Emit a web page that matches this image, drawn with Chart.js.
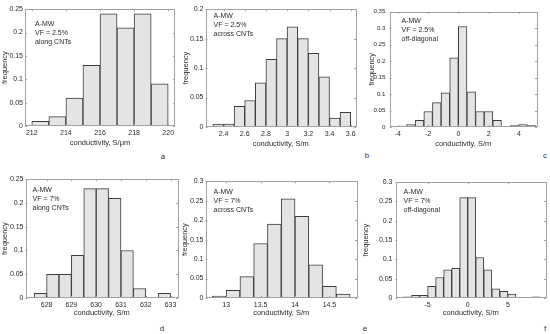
<!DOCTYPE html>
<html>
<head>
<meta charset="utf-8">
<script src="https://cdn.jsdelivr.net/npm/chart.js@4.4.0/dist/chart.umd.min.js"></script>
<style>
  body { margin: 0; width: 550px; height: 334px; background: #fff; position: relative; overflow: hidden; font-family: "Liberation Sans", Arial, sans-serif; }
  canvas { position: absolute; }
  .tag { position: absolute; font-size: 8px; color: #333; transform: translate(-50%, -50%); }
</style>
</head>
<body>
<div class="tag" style="left:163px;top:156px">a</div>
<div class="tag" style="left:367px;top:155px">b</div>
<div class="tag" style="left:545px;top:155px">c</div>
<div class="tag" style="left:162px;top:328px">d</div>
<div class="tag" style="left:365px;top:328px">e</div>
<div class="tag" style="left:545px;top:328px">f</div>
<script>
// bin centres and relative frequencies
const binsA = [212.5, 213.5, 214.5, 215.5, 216.5, 217.5, 218.5, 219.5];
const freqA = [0.01, 0.02, 0.06, 0.13, 0.24, 0.21, 0.24, 0.09];
const ticksA = [212, 214, 216, 218, 220];

const binsB = [2.35, 2.45, 2.55, 2.65, 2.75, 2.85, 2.95, 3.05, 3.15, 3.25, 3.35, 3.45, 3.55];
const freqB = [0.005, 0.005, 0.035, 0.045, 0.075, 0.115, 0.15, 0.17, 0.15, 0.125, 0.085, 0.015, 0.025];
const ticksB = [2.4, 2.6, 2.8, 3, 3.2, 3.4, 3.6];

const binsC = [-3.705, -3.135, -2.565, -1.995, -1.425, -0.855, -0.285, 0.285, 0.855, 1.425, 1.995, 2.565, 3.135, 3.705, 4.275, 4.845];
const freqC = [0.003, 0.007, 0.02, 0.047, 0.074, 0.104, 0.21, 0.305, 0.107, 0.047, 0.047, 0.02, 0.002, 0.004, 0.007, 0.004];
const ticksC = [-4, -2, 0, 2, 4];

const binsD = [627.75, 628.25, 628.75, 629.25, 629.75, 630.25, 630.75, 631.25, 631.75, 632.25, 632.75];
const freqD = [0.01, 0.05, 0.05, 0.09, 0.23, 0.23, 0.21, 0.10, 0.02, 0, 0.01];
const ticksD = [628, 629, 630, 631, 632, 633];

const binsE = [12.9, 13.1, 13.3, 13.5, 13.7, 13.9, 14.1, 14.3, 14.5, 14.7];
const freqE = [0.005, 0.02, 0.055, 0.14, 0.19, 0.255, 0.21, 0.085, 0.03, 0.01];
const ticksE = [13, 13.5, 14, 14.5];

const binsF = [-7.5, -6.5, -5.5, -4.5, -3.5, -2.5, -1.5, -0.5, 0.5, 1.5, 2.5, 3.5, 4.5, 5.5, 6.5, 7.5, 8.5];
const freqF = [0.003, 0.007, 0.007, 0.03, 0.053, 0.073, 0.077, 0.26, 0.26, 0.105, 0.073, 0.024, 0.017, 0.01, 0.001, 0.001, 0.003];
const ticksF = [-5, 0, 5];

const yTicks20 = [0, 0.05, 0.1, 0.15, 0.2];
const yTicks25 = [0, 0.05, 0.1, 0.15, 0.2, 0.25];
const yTicks30 = [0, 0.05, 0.1, 0.15, 0.2, 0.25, 0.3];
const yTicks35 = [0, 0.05, 0.1, 0.15, 0.2, 0.25, 0.3, 0.35];

const FONT = '"Liberation Sans", Arial, sans-serif';
const INK = "#2a2a2a";
const fmt = v => String(parseFloat(Number(v).toFixed(2)));

// box round the plot, inward ticks, and the note in the corner
const frame = {
  id: "frame",
  afterDatasetsDraw(chart, args, opts) {
    const { ctx, chartArea: a, scales: { x, y } } = chart;
    ctx.save();
    ctx.strokeStyle = "#a0a0a0";
    ctx.lineWidth = 1;
    ctx.strokeRect(Math.round(a.left) + 0.5, Math.round(a.top) + 0.5, Math.round(a.right - a.left) - 1, Math.round(a.bottom - a.top) - 1);
    ctx.beginPath();
    x.ticks.forEach(t => {
      const px = Math.round(x.getPixelForValue(t.value)) + 0.5;
      ctx.moveTo(px, a.bottom); ctx.lineTo(px, a.bottom - 2);
      ctx.moveTo(px, a.top); ctx.lineTo(px, a.top + 2);
    });
    y.ticks.forEach(t => {
      const py = Math.round(y.getPixelForValue(t.value)) + 0.5;
      ctx.moveTo(a.left, py); ctx.lineTo(a.left + 2, py);
      ctx.moveTo(a.right, py); ctx.lineTo(a.right - 2, py);
    });
    ctx.stroke();
    ctx.fillStyle = INK;
    ctx.font = "7px " + FONT;
    ctx.textBaseline = "middle";
    opts.lines.forEach((s, i) => ctx.fillText(s, a.left + opts.dx, a.top + opts.dy + i * 9));
    ctx.restore();
  }
};

function drawPanel(p) {
  const padT = 5, padR = 4;
  const w = Math.round(p.yw + p.right - p.left + padR);
  const h = Math.round(padT + p.bottom - p.top + p.xh);
  const cv = document.createElement("canvas");
  cv.width = w; cv.height = h;
  cv.style.left = (p.left - p.yw) + "px";
  cv.style.top = (p.top - padT) + "px";
  cv.style.width = w + "px"; cv.style.height = h + "px";
  document.body.appendChild(cv);

  new Chart(cv, {
    type: "bar",
    data: {
      datasets: [{
        data: p.bins.map((b, i) => ({ x: b, y: p.freq[i] })),
        backgroundColor: "#e4e4e4",
        borderColor: "#3c3c3c",
        borderWidth: 1,
        borderSkipped: false,
        barPercentage: 1,
        categoryPercentage: 1,
      }],
    },
    options: {
      responsive: false,
      animation: false,
      devicePixelRatio: 1,
      layout: { padding: { top: padT, right: padR, left: 0, bottom: 0 } },
      plugins: { legend: { display: false }, tooltip: { enabled: false }, frame: { lines: p.note, dx: p.dx, dy: p.dy } },
      scales: {
        x: {
          type: "linear", min: p.xmin, max: p.xmax, offset: false,
          grid: { display: false, drawTicks: false }, border: { display: false },
          afterBuildTicks: s => { s.ticks = p.xticks.map(v => ({ value: v })); },
          afterFit: s => { s.height = p.xh; },
          ticks: { padding: 3, color: INK, font: { size: 7, family: FONT }, maxRotation: 0, autoSkip: false, callback: fmt },
          title: { display: true, text: p.xtitle, color: INK, font: { size: 7.5, family: FONT }, padding: 0 },
        },
        y: {
          min: 0, max: p.ymax,
          grid: { display: false, drawTicks: false }, border: { display: false },
          afterBuildTicks: s => { s.ticks = p.yticks.map(v => ({ value: v })); },
          afterFit: s => { s.width = p.yw; },
          ticks: { padding: p.ypad, color: INK, font: { size: p.yfs, family: FONT }, autoSkip: false, callback: fmt },
          title: { display: true, text: "frequency", color: INK, font: { size: 7.5, family: FONT }, padding: 0 },
        },
      },
    },
    plugins: [frame],
  });
}

const panels = [
  { bins: binsA, freq: freqA, xticks: ticksA, xmin: 211.6, xmax: 220.4, yticks: yTicks25, ymax: 0.25,
    left: 25, right: 175, top: 8, bottom: 126, yw: 25, ypad: 2, yfs: 7, xh: 21, xtitle: "conductivity, S/\u03bcm",
    note: ["A-MW", "VF = 2.5%", "along CNTs"], dx: 10, dy: 15 },
  { bins: binsB, freq: freqB, xticks: ticksB, xmin: 2.23, xmax: 3.65, yticks: yTicks20, ymax: 0.2,
    left: 205, right: 355, top: 8, bottom: 127, yw: 24.5, ypad: 2, yfs: 7, xh: 21, xtitle: "conductivity, S/m",
    note: ["A-MW", "VF = 2.5%", "across CNTs"], dx: 8, dy: 7 },
  { bins: binsC, freq: freqC, xticks: ticksC, xmin: -4.55, xmax: 5.2, yticks: yTicks35, ymax: 0.35,
    left: 389, right: 536, top: 9, bottom: 127, yw: 22.5, ypad: 4, yfs: 6.2, xh: 21, xtitle: "conductivity, S/m",
    note: ["A-MW", "VF = 2.5%", "off-diagonal"], dx: 12, dy: 9 },
  { bins: binsD, freq: freqD, xticks: ticksD, xmin: 627.15, xmax: 633.3, yticks: yTicks25, ymax: 0.25,
    left: 25, right: 177, top: 178, bottom: 298, yw: 25.5, ypad: 2, yfs: 7, xh: 19, xtitle: "conductivity, S/m",
    note: ["A-MW", "VF = 7%", "along CNTs"], dx: 7, dy: 11 },
  { bins: binsE, freq: freqE, xticks: ticksE, xmin: 12.7, xmax: 14.9, yticks: yTicks30, ymax: 0.3,
    left: 205, right: 356, top: 180, bottom: 298, yw: 25.5, ypad: 2, yfs: 7, xh: 19, xtitle: "conductivity, S/m",
    note: ["A-MW", "VF = 7%", "across CNTs"], dx: 8, dy: 10.5 },
  { bins: binsF, freq: freqF, xticks: ticksF, xmin: -9, xmax: 9.75, yticks: yTicks30, ymax: 0.3,
    left: 395, right: 545, top: 180, bottom: 298, yw: 34.5, ypad: 3, yfs: 7, xh: 19, xtitle: "conductivity, S/m",
    note: ["A-MW", "VF = 7%", "off-diagonal"], dx: 8, dy: 10 },
];

panels.forEach(drawPanel);
</script>
</body>
</html>
